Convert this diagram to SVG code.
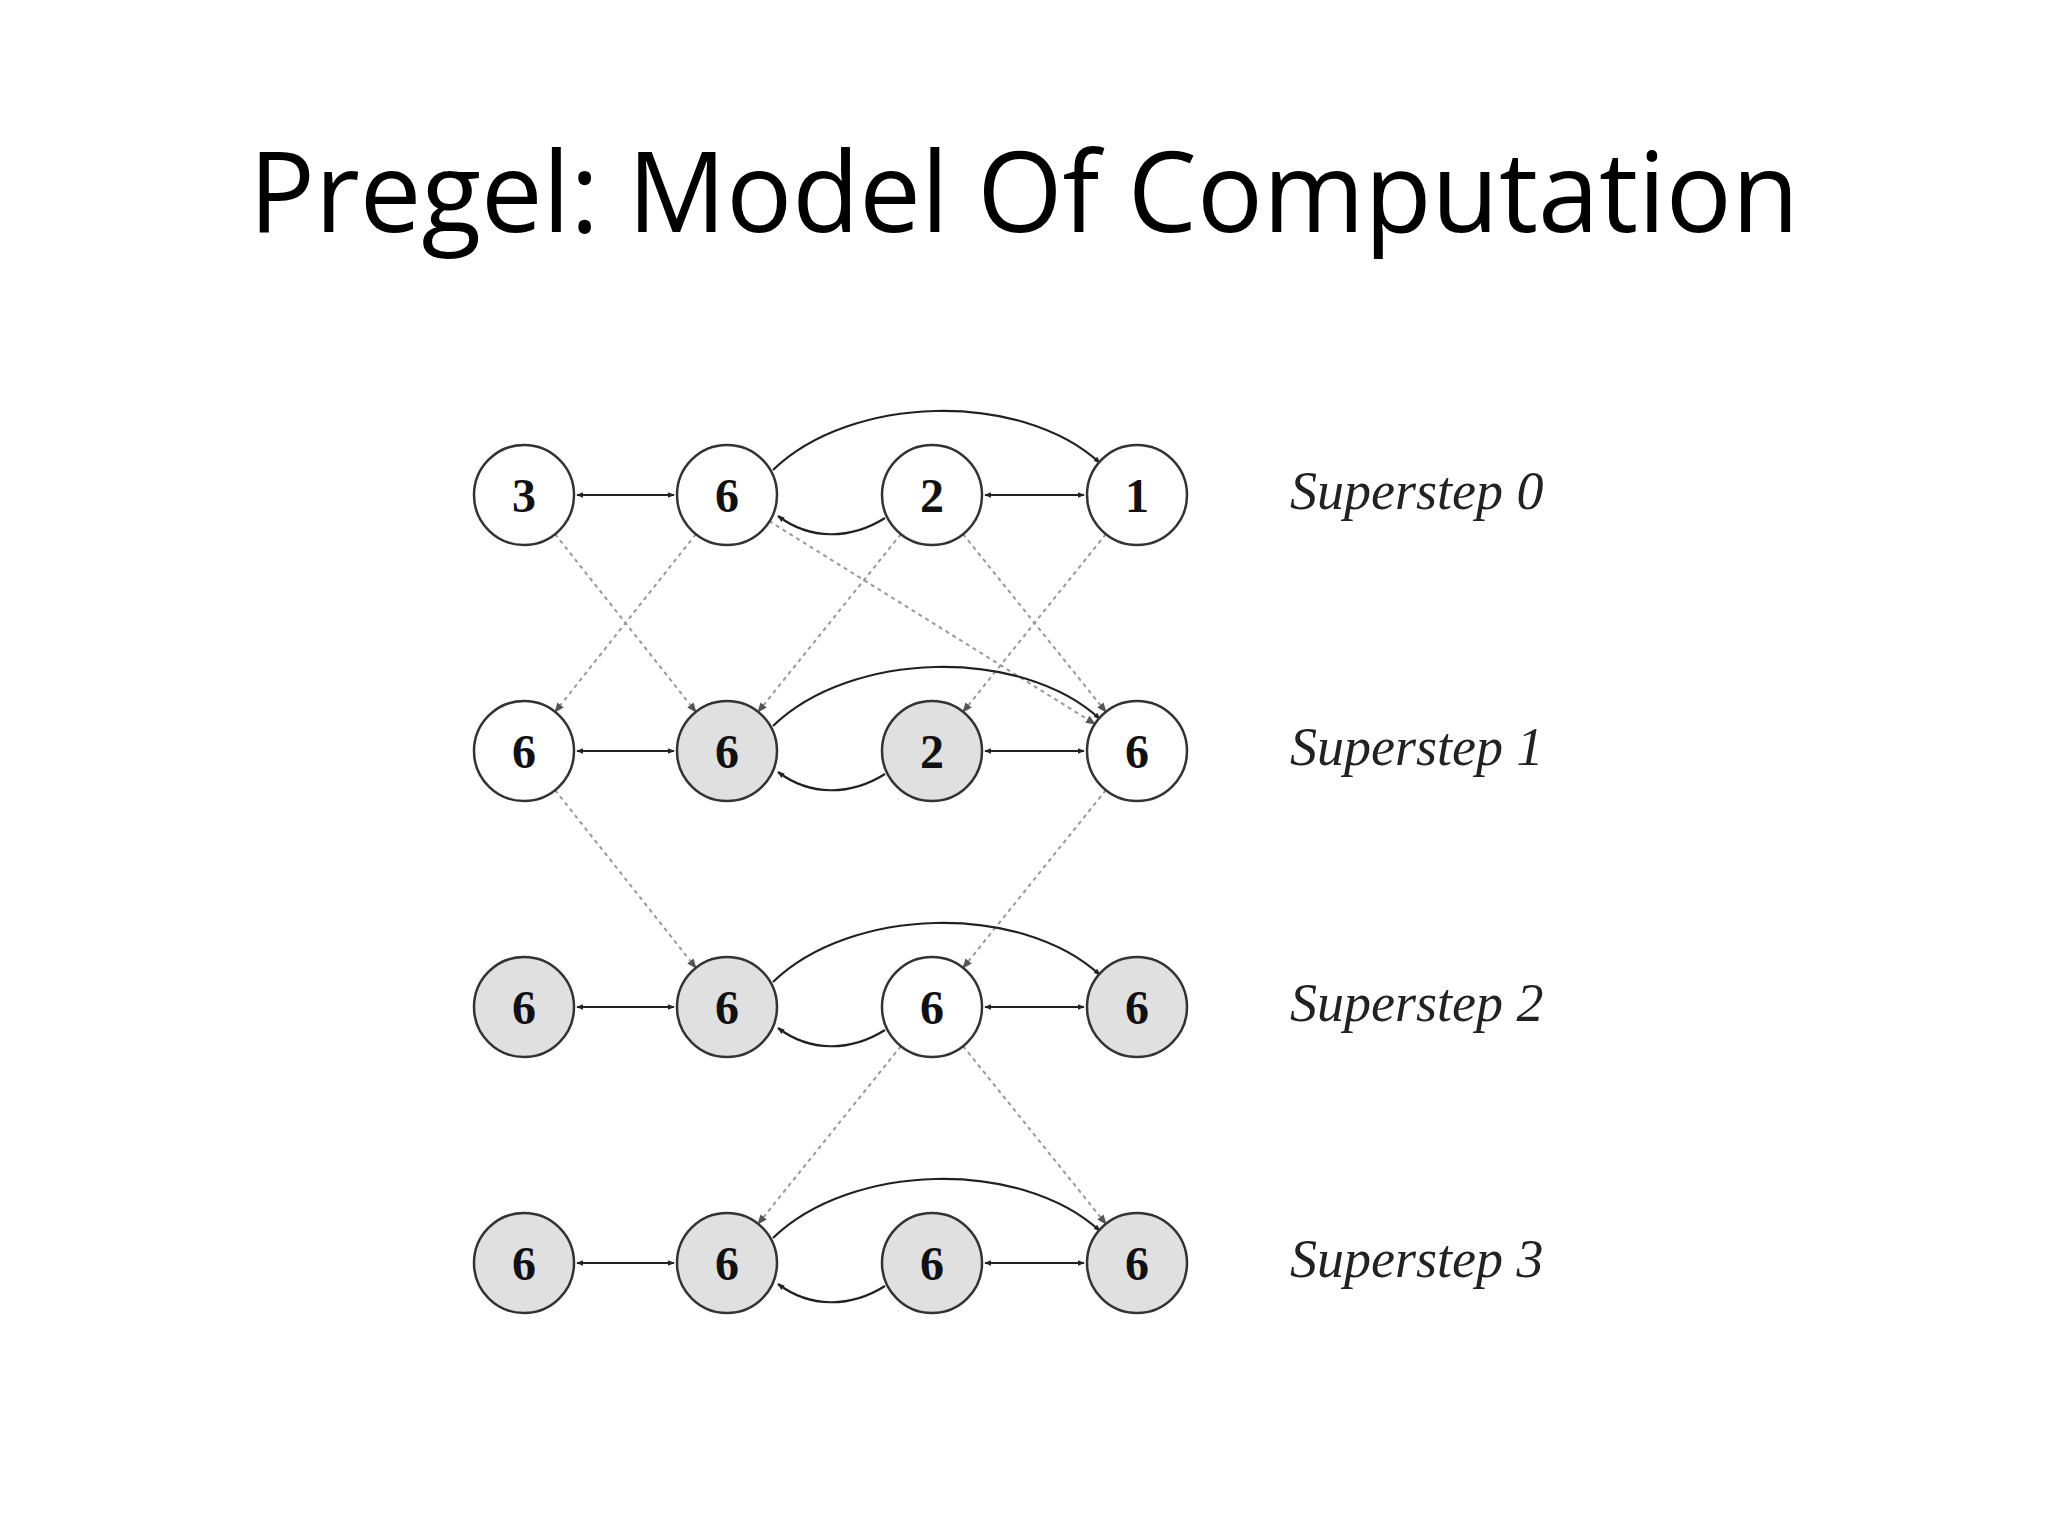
<svg xmlns="http://www.w3.org/2000/svg" width="2048" height="1536" viewBox="0 0 2048 1536">
<defs>
<marker id="a" viewBox="0 0 10 10" refX="9" refY="5" markerWidth="7" markerHeight="7" orient="auto-start-reverse" markerUnits="userSpaceOnUse"><path d="M0,1 L10,5 L0,9 z" fill="#222"/></marker>
<marker id="g" viewBox="0 0 10 10" refX="9" refY="5" markerWidth="10" markerHeight="10" orient="auto" markerUnits="userSpaceOnUse"><path d="M0,1 L10,5 L0,9 z" fill="#555"/></marker>
</defs>
<style>
.n{stroke:#333;stroke-width:2.5}
.w{fill:#fff}.s{fill:#e0e0e0}
.t{font-family:"Liberation Serif",serif;font-weight:bold;font-size:48px;text-anchor:middle;fill:#111}
.l{font-family:"Liberation Serif",serif;font-style:italic;font-size:54px;fill:#222}
.e{fill:none;stroke:#222;stroke-width:2.2}
.d{fill:none;stroke:#999;stroke-width:2;stroke-dasharray:4 4}
</style>
<rect width="2048" height="1536" fill="#fff"/>
<text x="1024" y="232" font-family="'Open Sans',sans-serif" font-size="112" text-anchor="middle" fill="#000" textLength="1550" lengthAdjust="spacingAndGlyphs">Pregel: Model Of Computation</text>
<g id="connectors">
<path class="d" marker-end="url(#g)" d="M555,534 L696,712"/>
<path class="d" marker-end="url(#g)" d="M696,534 L555,712"/>
<path class="d" marker-end="url(#g)" d="M901,534 L758,712"/>
<path class="d" marker-end="url(#g)" d="M963,534 L1106,712"/>
<path class="d" marker-end="url(#g)" d="M1106,534 L963,712"/>
<path class="d" marker-end="url(#g)" d="M769,521 L1095,724"/>
<path class="d" marker-end="url(#g)" d="M555,790 L696,968"/>
<path class="d" marker-end="url(#g)" d="M1106,790 L963,968"/>
<path class="d" marker-end="url(#g)" d="M901,1046 L758,1224"/>
<path class="d" marker-end="url(#g)" d="M963,1046 L1106,1224"/>
<g id="row-edges">
<g transform="translate(0,0)">
<path class="e" marker-start="url(#a)" marker-end="url(#a)" d="M577,495 L674,495"/>
<path class="e" marker-start="url(#a)" marker-end="url(#a)" d="M985,495 L1084,495"/>
<path class="e" marker-end="url(#a)" d="M773,470 C850,395 1020,390 1100,463"/>
<path class="e" marker-end="url(#a)" d="M885,518 C850,540 810,540 778,516"/>
</g>
<g transform="translate(0,256)">
<path class="e" marker-start="url(#a)" marker-end="url(#a)" d="M577,495 L674,495"/>
<path class="e" marker-start="url(#a)" marker-end="url(#a)" d="M985,495 L1084,495"/>
<path class="e" marker-end="url(#a)" d="M773,470 C850,395 1020,390 1100,463"/>
<path class="e" marker-end="url(#a)" d="M885,518 C850,540 810,540 778,516"/>
</g>
<g transform="translate(0,512)">
<path class="e" marker-start="url(#a)" marker-end="url(#a)" d="M577,495 L674,495"/>
<path class="e" marker-start="url(#a)" marker-end="url(#a)" d="M985,495 L1084,495"/>
<path class="e" marker-end="url(#a)" d="M773,470 C850,395 1020,390 1100,463"/>
<path class="e" marker-end="url(#a)" d="M885,518 C850,540 810,540 778,516"/>
</g>
<g transform="translate(0,768)">
<path class="e" marker-start="url(#a)" marker-end="url(#a)" d="M577,495 L674,495"/>
<path class="e" marker-start="url(#a)" marker-end="url(#a)" d="M985,495 L1084,495"/>
<path class="e" marker-end="url(#a)" d="M773,470 C850,395 1020,390 1100,463"/>
<path class="e" marker-end="url(#a)" d="M885,518 C850,540 810,540 778,516"/>
</g>
</g>
</g>
<g id="s0-a"><circle class="n w" cx="524" cy="495" r="50"/><text class="t" x="524" y="512">3</text></g>
<g id="s0-b"><circle class="n w" cx="727" cy="495" r="50"/><text class="t" x="727" y="512">6</text></g>
<g id="s0-c"><circle class="n w" cx="932" cy="495" r="50"/><text class="t" x="932" y="512">2</text></g>
<g id="s0-d"><circle class="n w" cx="1137" cy="495" r="50"/><text class="t" x="1137" y="512">1</text></g>
<g id="s1-a"><circle class="n w" cx="524" cy="751" r="50"/><text class="t" x="524" y="768">6</text></g>
<g id="s1-b"><circle class="n s" cx="727" cy="751" r="50"/><text class="t" x="727" y="768">6</text></g>
<g id="s1-c"><circle class="n s" cx="932" cy="751" r="50"/><text class="t" x="932" y="768">2</text></g>
<g id="s1-d"><circle class="n w" cx="1137" cy="751" r="50"/><text class="t" x="1137" y="768">6</text></g>
<g id="s2-a"><circle class="n s" cx="524" cy="1007" r="50"/><text class="t" x="524" y="1024">6</text></g>
<g id="s2-b"><circle class="n s" cx="727" cy="1007" r="50"/><text class="t" x="727" y="1024">6</text></g>
<g id="s2-c"><circle class="n w" cx="932" cy="1007" r="50"/><text class="t" x="932" y="1024">6</text></g>
<g id="s2-d"><circle class="n s" cx="1137" cy="1007" r="50"/><text class="t" x="1137" y="1024">6</text></g>
<g id="s3-a"><circle class="n s" cx="524" cy="1263" r="50"/><text class="t" x="524" y="1280">6</text></g>
<g id="s3-b"><circle class="n s" cx="727" cy="1263" r="50"/><text class="t" x="727" y="1280">6</text></g>
<g id="s3-c"><circle class="n s" cx="932" cy="1263" r="50"/><text class="t" x="932" y="1280">6</text></g>
<g id="s3-d"><circle class="n s" cx="1137" cy="1263" r="50"/><text class="t" x="1137" y="1280">6</text></g>
<g id="labels">
<text class="l" x="1290" y="509">Superstep 0</text>
<text class="l" x="1290" y="765">Superstep 1</text>
<text class="l" x="1290" y="1021">Superstep 2</text>
<text class="l" x="1290" y="1277">Superstep 3</text>
</g>
</svg>
